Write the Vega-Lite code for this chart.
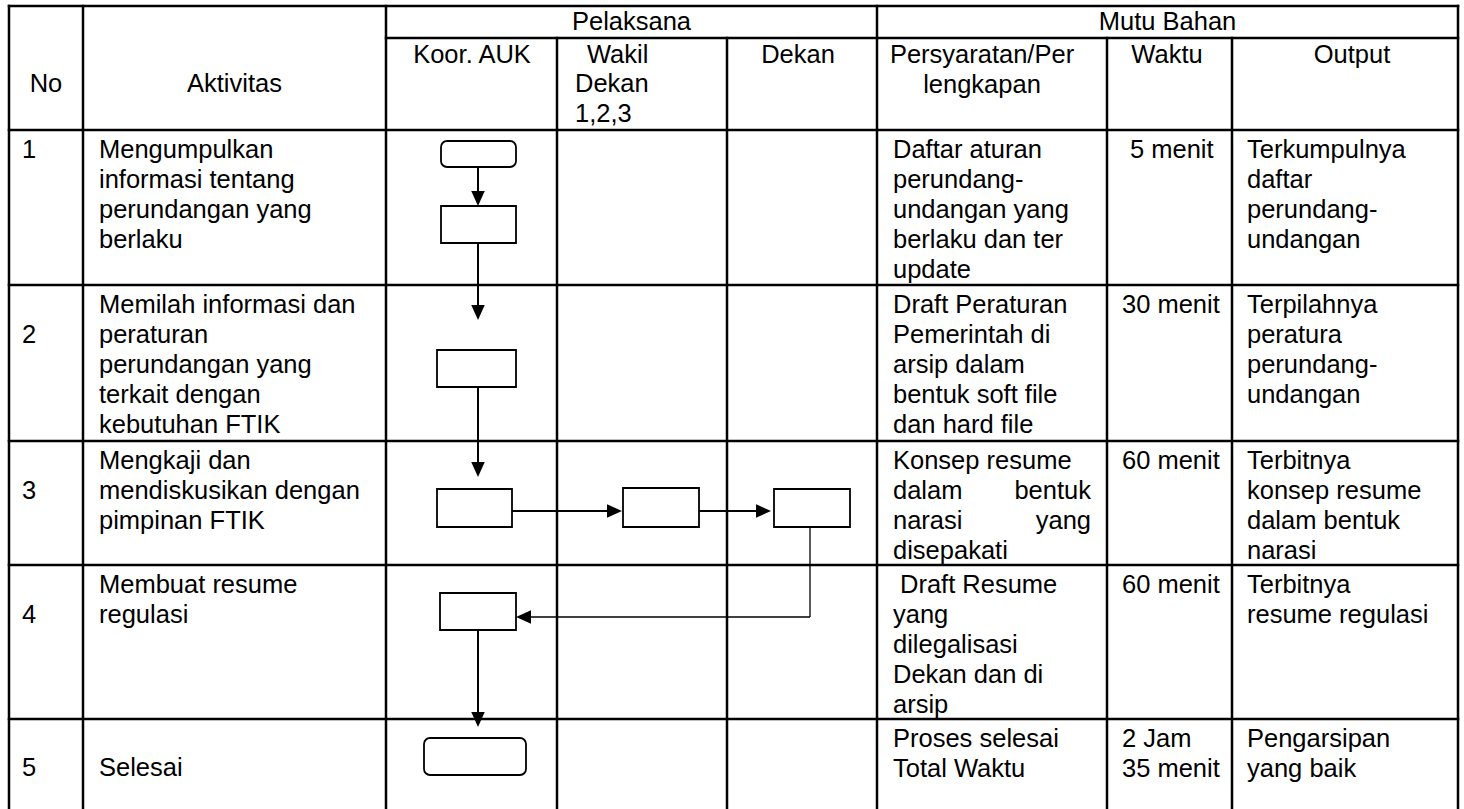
{
  "$schema": "https://vega.github.io/schema/vega-lite/v6.json",
  "width": 1464,
  "height": 809,
  "padding": 0,
  "autosize": {"type": "none"},
  "background": "white",
  "config": {"view": {"stroke": null}},
  "datasets": {
    "grid": [
      {"x": 9, "x2": 1458, "y": 6, "y2": 6},
      {"x": 386, "x2": 1458, "y": 38, "y2": 38},
      {"x": 9, "x2": 1458, "y": 130, "y2": 130},
      {"x": 9, "x2": 1458, "y": 285, "y2": 285},
      {"x": 9, "x2": 1458, "y": 441, "y2": 441},
      {"x": 9, "x2": 1458, "y": 565, "y2": 565},
      {"x": 9, "x2": 1458, "y": 719, "y2": 719},
      {"x": 9, "x2": 9, "y": 6, "y2": 809},
      {"x": 83, "x2": 83, "y": 6, "y2": 809},
      {"x": 386, "x2": 386, "y": 6, "y2": 809},
      {"x": 557, "x2": 557, "y": 38, "y2": 809},
      {"x": 727, "x2": 727, "y": 38, "y2": 809},
      {"x": 877, "x2": 877, "y": 6, "y2": 809},
      {"x": 1107, "x2": 1107, "y": 38, "y2": 809},
      {"x": 1232, "x2": 1232, "y": 38, "y2": 809},
      {"x": 1458, "x2": 1458, "y": 6, "y2": 809}
    ],
    "boxes": [
      {"kind": "round", "x": 441, "x2": 516, "y": 141, "y2": 167},
      {"kind": "rect", "x": 441, "x2": 516, "y": 206, "y2": 243},
      {"kind": "rect", "x": 437, "x2": 516, "y": 350, "y2": 387},
      {"kind": "rect", "x": 437, "x2": 512, "y": 489, "y2": 527},
      {"kind": "rect", "x": 623, "x2": 699, "y": 488, "y2": 527},
      {"kind": "rect", "x": 774, "x2": 850, "y": 489, "y2": 527},
      {"kind": "rect", "x": 440, "x2": 516, "y": 593, "y2": 630},
      {"kind": "round", "x": 424, "x2": 526, "y": 738, "y2": 775}
    ],
    "links": [
      {"kind": "flow", "x": 478, "x2": 478, "y": 167, "y2": 192},
      {"kind": "flow", "x": 478, "x2": 478, "y": 243, "y2": 306},
      {"kind": "flow", "x": 478, "x2": 478, "y": 387, "y2": 463},
      {"kind": "flow", "x": 512, "x2": 608, "y": 511, "y2": 511},
      {"kind": "flow", "x": 699, "x2": 757, "y": 511, "y2": 511},
      {"kind": "flow", "x": 478, "x2": 478, "y": 630, "y2": 713},
      {"kind": "back", "x": 810, "x2": 810, "y": 527, "y2": 617},
      {"kind": "back", "x": 810, "x2": 529, "y": 617, "y2": 617}
    ],
    "heads": [
      {"dir": "down", "x": 478, "y": 198.5},
      {"dir": "down", "x": 478, "y": 312.5},
      {"dir": "down", "x": 478, "y": 469.5},
      {"dir": "right", "x": 614.5, "y": 511},
      {"dir": "right", "x": 763.5, "y": 511},
      {"dir": "left", "x": 523.5, "y": 617},
      {"dir": "down", "x": 478, "y": 719.5}
    ],
    "texts": [
      {"a": "c", "x": 46, "y": 92, "t": "No"},
      {"a": "c", "x": 234.5, "y": 92, "t": "Aktivitas"},
      {"a": "c", "x": 631.5, "y": 30, "t": "Pelaksana"},
      {"a": "c", "x": 1167.5, "y": 30, "t": "Mutu Bahan"},
      {"a": "c", "x": 472, "y": 63, "t": "Koor. AUK"},
      {"a": "c", "x": 798, "y": 63, "t": "Dekan"},
      {"a": "c", "x": 982, "y": 63, "t": "Persyaratan/Per\nlengkapan"},
      {"a": "c", "x": 1167, "y": 63, "t": "Waktu"},
      {"a": "c", "x": 1352, "y": 63, "t": "Output"},
      {"a": "l", "x": 587, "y": 63, "t": "Wakil"},
      {"a": "l", "x": 575, "y": 92, "t": "Dekan\n1,2,3"},
      {"a": "l", "x": 22, "y": 158, "t": "1"},
      {"a": "l", "x": 22, "y": 343, "t": "2"},
      {"a": "l", "x": 22, "y": 499, "t": "3"},
      {"a": "l", "x": 22, "y": 623, "t": "4"},
      {"a": "l", "x": 22, "y": 776, "t": "5"},
      {"a": "l", "x": 99, "y": 158, "t": "Mengumpulkan\ninformasi tentang\nperundangan yang\nberlaku"},
      {"a": "l", "x": 99, "y": 313, "t": "Memilah informasi dan\nperaturan\nperundangan yang\nterkait dengan\nkebutuhan FTIK"},
      {"a": "l", "x": 99, "y": 469, "t": "Mengkaji dan\nmendiskusikan dengan\npimpinan FTIK"},
      {"a": "l", "x": 99, "y": 593, "t": "Membuat resume\nregulasi"},
      {"a": "l", "x": 99, "y": 776, "t": "Selesai"},
      {"a": "l", "x": 893, "y": 158, "t": "Daftar aturan\nperundang-\nundangan yang\nberlaku dan ter\nupdate"},
      {"a": "l", "x": 893, "y": 313, "t": "Draft Peraturan\nPemerintah di\narsip dalam\nbentuk soft file\ndan hard file"},
      {"a": "l", "x": 893, "y": 469, "t": "Konsep resume"},
      {"a": "l", "x": 893, "y": 499, "t": "dalam"},
      {"a": "r", "x": 1091, "y": 499, "t": "bentuk"},
      {"a": "l", "x": 893, "y": 529, "t": "narasi"},
      {"a": "r", "x": 1091, "y": 529, "t": "yang"},
      {"a": "l", "x": 893, "y": 559, "t": "disepakati"},
      {"a": "l", "x": 900, "y": 593, "t": "Draft Resume"},
      {"a": "l", "x": 893, "y": 623, "t": "yang\ndilegalisasi\nDekan dan di\narsip"},
      {"a": "l", "x": 893, "y": 747, "t": "Proses selesai\nTotal Waktu"},
      {"a": "l", "x": 1130, "y": 158, "t": "5 menit"},
      {"a": "l", "x": 1122, "y": 313, "t": "30 menit"},
      {"a": "l", "x": 1122, "y": 469, "t": "60 menit"},
      {"a": "l", "x": 1122, "y": 593, "t": "60 menit"},
      {"a": "l", "x": 1122, "y": 747, "t": "2 Jam\n35 menit"},
      {"a": "l", "x": 1247, "y": 158, "t": "Terkumpulnya\ndaftar\nperundang-\nundangan"},
      {"a": "l", "x": 1247, "y": 313, "t": "Terpilahnya\nperatura\nperundang-\nundangan"},
      {"a": "l", "x": 1247, "y": 469, "t": "Terbitnya\nkonsep resume\ndalam bentuk\nnarasi"},
      {"a": "l", "x": 1247, "y": 593, "t": "Terbitnya\nresume regulasi"},
      {"a": "l", "x": 1247, "y": 747, "t": "Pengarsipan\nyang baik"}
    ]
  },
  "encoding": {
    "x": {"field": "x", "type": "quantitative", "scale": {"domain": [0, 1464], "nice": false, "zero": false}, "axis": null},
    "y": {"field": "y", "type": "quantitative", "scale": {"domain": [0, 809], "nice": false, "zero": false, "reverse": true}, "axis": null}
  },
  "layer": [
    {
      "data": {"name": "grid"},
      "mark": {"type": "rule", "color": "black", "strokeWidth": 2.5, "strokeCap": "square"},
      "encoding": {"x2": {"field": "x2"}, "y2": {"field": "y2"}}
    },
    {
      "data": {"name": "boxes"},
      "transform": [{"filter": "datum.kind === 'rect'"}],
      "mark": {"type": "rect", "fill": "white", "stroke": "black", "strokeWidth": 1.8},
      "encoding": {"x2": {"field": "x2"}, "y2": {"field": "y2"}}
    },
    {
      "data": {"name": "boxes"},
      "transform": [{"filter": "datum.kind === 'round'"}],
      "mark": {"type": "rect", "fill": "white", "stroke": "black", "strokeWidth": 1.8, "cornerRadius": 6},
      "encoding": {"x2": {"field": "x2"}, "y2": {"field": "y2"}}
    },
    {
      "data": {"name": "links"},
      "transform": [{"filter": "datum.kind === 'flow'"}],
      "mark": {"type": "rule", "color": "black", "strokeWidth": 2},
      "encoding": {"x2": {"field": "x2"}, "y2": {"field": "y2"}}
    },
    {
      "data": {"name": "links"},
      "transform": [{"filter": "datum.kind === 'back'"}],
      "mark": {"type": "rule", "color": "black", "strokeWidth": 1.3},
      "encoding": {"x2": {"field": "x2"}, "y2": {"field": "y2"}}
    },
    {
      "data": {"name": "heads"},
      "mark": {"type": "point", "filled": true, "color": "black", "opacity": 1, "size": 225, "strokeWidth": 0},
      "encoding": {
        "shape": {
          "field": "dir",
          "type": "nominal",
          "scale": {
            "domain": ["down", "right", "left"],
            "range": ["M-0.9,-1L0.9,-1L0,1Z", "M-1,-0.9L1,0L-1,0.9Z", "M1,-0.9L-1,0L1,0.9Z"]
          },
          "legend": null
        }
      }
    },
    {
      "data": {"name": "texts"},
      "transform": [{"filter": "datum.a === 'c'"}],
      "mark": {"type": "text", "align": "center", "baseline": "alphabetic", "font": "Liberation Sans", "fontSize": 25.5, "lineHeight": 30, "lineBreak": "\n", "color": "black"},
      "encoding": {"text": {"field": "t", "type": "nominal"}}
    },
    {
      "data": {"name": "texts"},
      "transform": [{"filter": "datum.a === 'l'"}],
      "mark": {"type": "text", "align": "left", "baseline": "alphabetic", "font": "Liberation Sans", "fontSize": 25.5, "lineHeight": 30, "lineBreak": "\n", "color": "black"},
      "encoding": {"text": {"field": "t", "type": "nominal"}}
    },
    {
      "data": {"name": "texts"},
      "transform": [{"filter": "datum.a === 'r'"}],
      "mark": {"type": "text", "align": "right", "baseline": "alphabetic", "font": "Liberation Sans", "fontSize": 25.5, "lineHeight": 30, "lineBreak": "\n", "color": "black"},
      "encoding": {"text": {"field": "t", "type": "nominal"}}
    }
  ]
}
